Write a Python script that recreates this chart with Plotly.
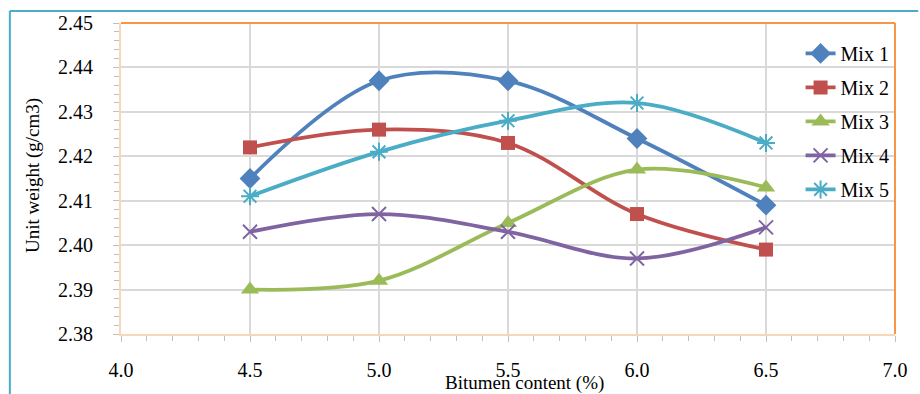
import plotly.graph_objects as go

# Bitumen content (%) and unit weight (g/cm3) for each mix
bitumen = [4.5, 5.0, 5.5, 6.0, 6.5]
mix_1 = [2.415, 2.437, 2.437, 2.424, 2.409]
mix_2 = [2.422, 2.426, 2.423, 2.407, 2.399]
mix_3 = [2.390, 2.392, 2.405, 2.417, 2.413]
mix_4 = [2.403, 2.407, 2.403, 2.397, 2.404]
mix_5 = [2.411, 2.421, 2.428, 2.432, 2.423]
series_names = ["Mix 1", "Mix 2", "Mix 3", "Mix 4", "Mix 5"]

FONT = "Times New Roman"

styles = [
    dict(color="#4F81BD", symbol="diamond", size=16, lw=0),
    dict(color="#C0504D", symbol="square", size=14, lw=0),
    dict(color="#9BBB59", symbol="triangle-up", size=16, lw=0),
    dict(color="#8064A2", symbol="x-thin-open", size=14, lw=2),
    dict(color="#4BACC6", symbol="asterisk-open", size=15, lw=2),
]

fig = go.Figure()
for name, ys, st in zip(series_names, [mix_1, mix_2, mix_3, mix_4, mix_5], styles):
    fig.add_trace(go.Scatter(
        x=bitumen, y=ys, name=name, mode="lines+markers",
        legendgroup=name,
        line=dict(color=st["color"], width=3.8, shape="spline", smoothing=1.0),
        marker=dict(symbol=st["symbol"], size=st["size"], color=st["color"],
                    line=dict(color=st["color"], width=st["lw"])),
    ))

grid = "#D9D9D9"
axis_line = "#FAD6B8"
tick_col = "#BFBFBF"

fig.update_xaxes(
    range=[4.0, 7.0], dtick=0.5, tick0=4.0, tickformat=".1f",
    showgrid=True, gridcolor=grid, gridwidth=2,
    showline=True, linecolor=axis_line, linewidth=2,
    ticks="outside", ticklen=6, tickcolor=tick_col, tickwidth=1,
    minor=dict(dtick=0.1, ticks="outside", ticklen=5, tickcolor=tick_col, showgrid=False),
    tickfont=dict(family=FONT, size=20, color="black"),
    ticklabelstandoff=11, zeroline=False,
)
fig.update_yaxes(
    range=[2.38, 2.45], dtick=0.01, tick0=2.38, tickformat=".2f",
    showgrid=True, gridcolor=grid, gridwidth=2,
    showline=True, linecolor=axis_line, linewidth=2,
    ticks="outside", ticklen=6, tickcolor=tick_col, tickwidth=1,
    minor=dict(dtick=0.002, ticks="outside", ticklen=5, tickcolor=tick_col, showgrid=False),
    tickfont=dict(family=FONT, size=20, color="black"),
    ticklabelstandoff=16, zeroline=False,
)

# orange frame on the top and right sides of the plot area
frame = "#F79646"
# teal outer chart border (top and left edges)
teal = "#4BACC6"
fig.update_layout(
    width=920, height=394,
    margin=dict(l=121, r=19, t=22, b=60),
    paper_bgcolor="white", plot_bgcolor="white",
    font=dict(family=FONT, color="black"),
    showlegend=True,
    legend=dict(
        x=0.878, y=0.965, xanchor="left", yanchor="top",
        font=dict(family=FONT, size=20, color="black"),
        bgcolor="rgba(0,0,0,0)", tracegroupgap=5,
    ),
    shapes=[
        dict(type="line", xref="paper", yref="paper", x0=0, x1=1, y0=1, y1=1,
             line=dict(color=frame, width=2)),
        dict(type="line", xref="paper", yref="paper", x0=1, x1=1, y0=0, y1=1,
             line=dict(color=frame, width=2)),
        dict(type="line", xref="paper", yref="paper", x0=-0.1436, x1=1.03, y0=1.0385, y1=1.0385,
             line=dict(color=teal, width=2)),
        dict(type="line", xref="paper", yref="paper", x0=-0.1436, x1=-0.1436, y0=-0.2, y1=1.0385,
             line=dict(color=teal, width=2)),
    ],
    annotations=[
        dict(text="Bitumen content (%)", xref="paper", yref="paper", x=0.5218, y=-0.158,
             xanchor="center", yanchor="middle", showarrow=False,
             font=dict(family=FONT, size=19, color="black")),
        dict(text="Unit weight (g/cm3)", xref="paper", yref="paper", x=-0.1128, y=0.51,
             xanchor="center", yanchor="middle", showarrow=False, textangle=-90,
             font=dict(family=FONT, size=19, color="black")),
    ],
)

fig.write_html("out.html")
